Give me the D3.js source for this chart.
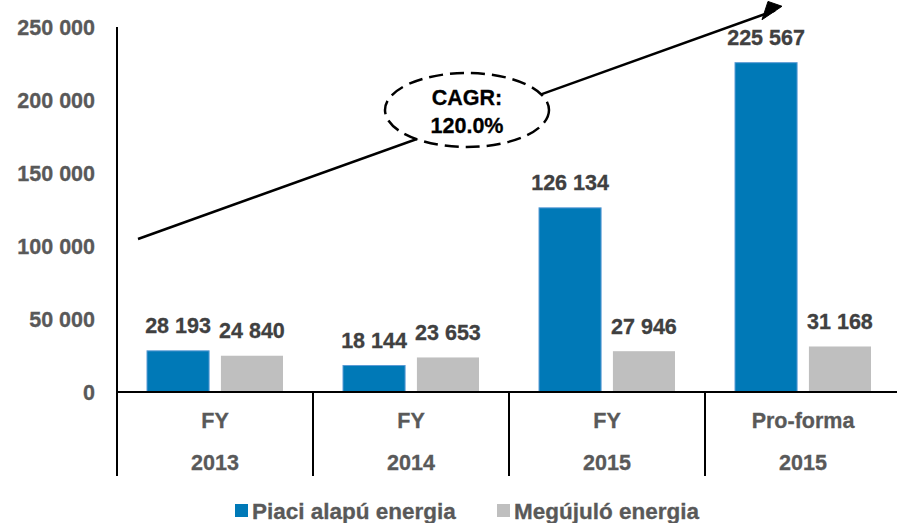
<!DOCTYPE html>
<html>
<head>
<meta charset="utf-8">
<script src="https://cdn.jsdelivr.net/npm/d3@7"></script>
<style>
  body { margin: 0; background: #fff; }
  text { font-family: "Liberation Sans", Arial, sans-serif; font-weight: bold; }
</style>
</head>
<body>
<div id="chart"></div>
<script>
// data
var periods = ["FY", "FY", "FY", "Pro-forma"];
var years = ["2013", "2014", "2015", "2015"];
var seriesNames = ["Piaci alapú energia", "Megújuló energia"];
var piaci = [28193, 18144, 126134, 225567];
var megujulo = [24840, 23653, 27946, 31168];
var yTicks = [0, 50000, 100000, 150000, 200000, 250000];
var cagrText = ["CAGR:", "120.0%"];

var colors = ["#0079b7", "#bfbfbf"];
var width = 897, height = 523;
var fs = 21.5;
var svg = d3.select("#chart").append("svg")
  .attr("width", width).attr("height", height);

var x = d3.scaleBand().domain(d3.range(periods.length)).range([117, 901]).paddingInner(0).paddingOuter(0);
var xs = d3.scaleBand().domain([0, 1]).range([30, 166]).paddingInner(0.16);
var y = d3.scaleLinear().domain([0, 250000]).range([392, 27]);

var fmt = v => d3.format(",")(v).replace(/,/g, " ");

// y tick labels
svg.append("g").selectAll("text").data(yTicks).join("text")
  .attr("x", 95).attr("y", d => y(d)).attr("dy", "0.35em")
  .attr("text-anchor", "end").attr("font-size", fs).attr("fill", "#595959")
  .attr("stroke", "#595959").attr("stroke-width", 0.3)
  .text(fmt);

// bars
var rows = periods.map((p, i) => [piaci[i], megujulo[i]]);
var groups = svg.append("g").selectAll("g").data(rows).join("g")
  .attr("transform", (d, i) => `translate(${x(i)},0)`);
groups.selectAll("rect").data(d => d).join("rect")
  .attr("x", (d, j) => xs(j)).attr("width", xs.bandwidth())
  .attr("y", d => y(d)).attr("height", d => y(0) - y(d))
  .attr("fill", (d, j) => colors[j])
  .attr("stroke", (d, j) => j == 0 ? "#5b9bd5" : "none").attr("stroke-width", 1);
groups.selectAll("text").data(d => d).join("text")
  .attr("x", (d, j) => xs(j) + xs.bandwidth() / 2)
  .attr("y", d => y(d) - 25).attr("dy", "0.35em")
  .attr("text-anchor", "middle").attr("font-size", fs).attr("fill", "#404040")
  .attr("stroke", "#404040").attr("stroke-width", 0.3)
  .text(fmt);

// axes lines
svg.append("line").attr("x1", 117).attr("x2", 117).attr("y1", y(250000)).attr("y2", y(0))
  .attr("stroke", "#000").attr("stroke-width", 2);
svg.append("line").attr("x1", 117).attr("x2", width).attr("y1", y(0)).attr("y2", y(0))
  .attr("stroke", "#000").attr("stroke-width", 2);
svg.append("g").selectAll("line").data(d3.range(periods.length)).join("line")
  .attr("x1", i => x(i)).attr("x2", i => x(i)).attr("y1", y(0)).attr("y2", 476)
  .attr("stroke", "#000").attr("stroke-width", 2);

// category labels
var cats = svg.append("g").selectAll("g").data(periods).join("g")
  .attr("transform", (d, i) => `translate(${x(i) + x.bandwidth() / 2},0)`);
cats.append("text").attr("y", 420).attr("dy", "0.35em").attr("text-anchor", "middle")
  .attr("font-size", fs).attr("fill", "#595959").attr("stroke", "#595959").attr("stroke-width", 0.3)
  .text(d => d);
cats.append("text").attr("y", 462).attr("dy", "0.35em").attr("text-anchor", "middle")
  .attr("font-size", fs).attr("fill", "#595959").attr("stroke", "#595959").attr("stroke-width", 0.3)
  .text((d, i) => years[i]);

// CAGR arrow
svg.append("line")
  .attr("x1", x(0) + 21).attr("y1", y(104800))
  .attr("x2", x(3) + 70).attr("y2", y(261300))
  .attr("stroke", "#000").attr("stroke-width", 2.5);
svg.append("path")
  .attr("d", d3.line()([[x(3) + 57, y(255000)], [x(3) + 77, y(264200)], [x(3) + 63, y(267500)]]) + "Z")
  .attr("fill", "#000").attr("stroke", "#000").attr("stroke-width", 1).attr("stroke-linejoin", "miter");
svg.append("ellipse")
  .attr("cx", 467).attr("cy", 110).attr("rx", 82).attr("ry", 37)
  .attr("fill", "#fff").attr("stroke", "#000").attr("stroke-width", 2.5)
  .attr("stroke-dasharray", "14,7");
svg.append("g").selectAll("text").data(cagrText).join("text")
  .attr("x", 467).attr("y", (d, i) => 97 + i * 28).attr("dy", "0.35em")
  .attr("text-anchor", "middle").attr("font-size", fs).attr("fill", "#000")
  .attr("stroke", "#000").attr("stroke-width", 0.3).text(d => d);

// legend
var legend = svg.append("g").selectAll("g").data(seriesNames).join("g")
  .attr("transform", (d, i) => `translate(${i == 0 ? 235 : 497},511)`);
legend.append("rect").attr("x", 0).attr("y", -7).attr("width", 13).attr("height", 13)
  .attr("fill", (d, i) => colors[i]);
legend.append("text").attr("x", 17).attr("y", 0).attr("dy", "0.35em")
  .attr("font-size", 22.5).attr("fill", "#595959").attr("stroke", "#595959").attr("stroke-width", 0.3)
  .text(d => d);
</script>
</body>
</html>
